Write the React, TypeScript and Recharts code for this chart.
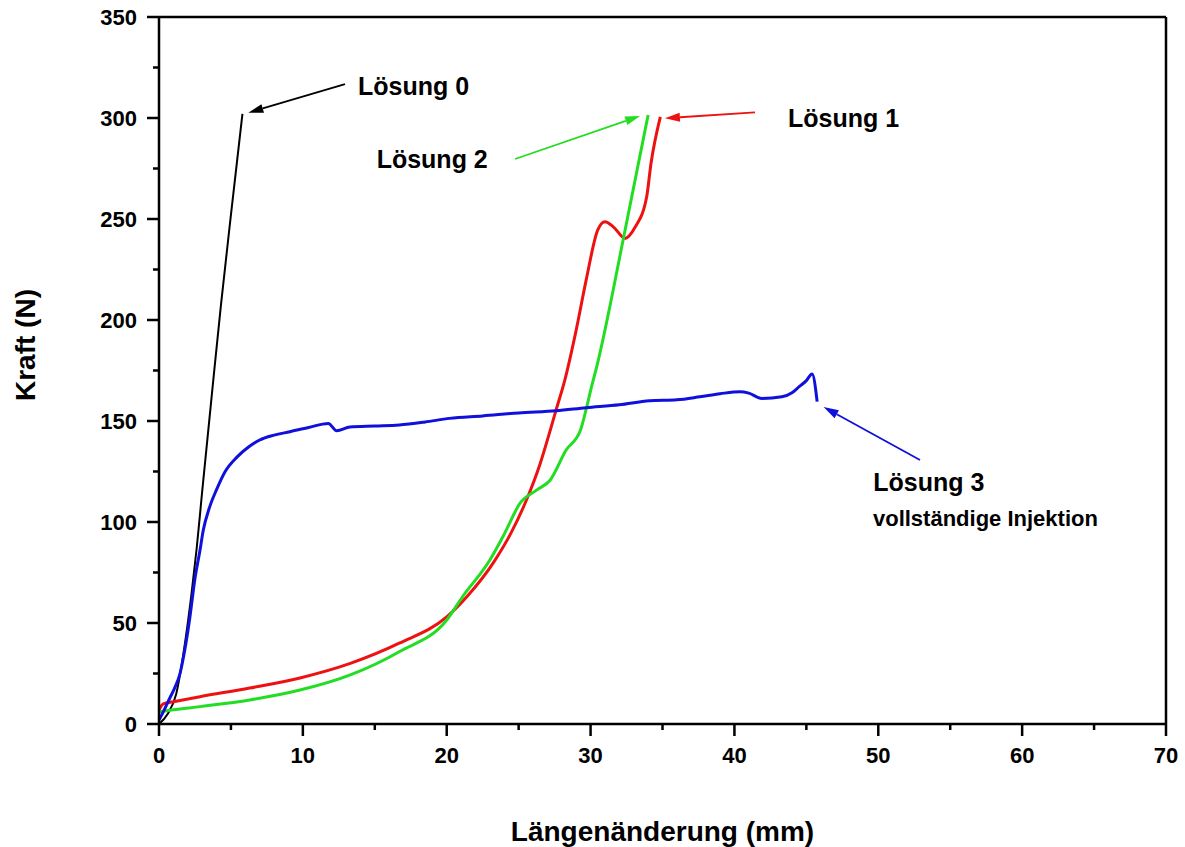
import { LineChart, Line, XAxis, YAxis, ReferenceLine, ReferenceDot, Label } from 'recharts';

const FONT = '"Liberation Sans", Arial, Helvetica, sans-serif';

const X_TICKS = [0, 5, 10, 15, 20, 25, 30, 35, 40, 45, 50, 55, 60, 65, 70];
const Y_TICKS = [0, 25, 50, 75, 100, 125, 150, 175, 200, 225, 250, 275, 300, 325, 350];

// Lösung 0
const loesung0X = [0, 0.6, 1.2, 1.7, 2.27, 2.62, 3.0, 3.77, 4.3, 5.0, 5.8];
const loesung0Y = [0, 5, 15, 35, 65, 87, 115, 170, 207, 252, 302];

// Lösung 1
const loesung1X = [0, 0.3, 1.0, 2.85, 6.3, 9.8, 13.3, 16.7, 20.0, 21.4, 23.35, 24.5, 25.55, 26.5, 27.2, 27.6, 28.2, 29.0, 29.7, 30.5, 31.0, 31.6, 32.4, 33.1, 33.9, 34.2, 34.85];
const loesung1Y = [7, 10, 11, 13.5, 17.8, 22.8, 30, 40, 53, 63, 81, 95, 111, 129, 145.5, 155.4, 170, 195, 220, 244.6, 248.7, 246, 240.4, 246, 261, 277.5, 300.6];

// Lösung 2
const loesung2X = [0, 1.0, 2.85, 6.3, 9.8, 13.3, 16.7, 20.0, 21.1, 23.0, 24.0, 25.1, 26.25, 27.2, 28.3, 29.3, 29.7, 30.0, 30.5, 31.0, 32.3, 33.2, 34.0];
const loesung2Y = [6, 7, 8.6, 11.9, 16.8, 24.3, 35.8, 51.5, 63, 81.2, 94, 109.3, 115.8, 120.8, 135.6, 145.5, 156, 165, 179, 195, 241, 273, 301.5];

// Lösung 3 (vollständige Injektion)
const loesung3X = [0, 0.3, 0.76, 1.1, 1.46, 1.8, 2.15, 2.5, 2.85, 3.08, 3.5, 4.0, 4.6, 5.4, 6.2, 7.0, 8.0, 9.1, 10.4, 11.77, 12.35, 13.27, 15.0, 16.7, 18.5, 20.2, 22.5, 25.0, 27.6, 29.7, 32.0, 34.1, 36.0, 37.6, 39.0, 40.4, 41.0, 41.9, 43.3, 44.0, 44.5, 45.0, 45.4, 45.75];
const loesung3Y = [2, 6, 13, 18, 25, 37, 53, 72, 86, 96, 107, 116, 125, 132, 137, 140.6, 143, 144.7, 146.8, 148.8, 145.2, 147, 147.5, 148, 149.5, 151.3, 152.5, 154, 155.1, 156.6, 158, 160, 160.5, 162, 163.5, 164.5, 163.8, 161.2, 162, 164, 167, 170, 173.3, 159.6];

const toPoints = (xs: number[], ys: number[]) => xs.map((x, i) => ({ x, y: ys[i] }));

const SERIES = [
  { key: 'l0', color: '#000000', width: 2, data: toPoints(loesung0X, loesung0Y) },
  { key: 'l1', color: '#ee1111', width: 3, data: toPoints(loesung1X, loesung1Y) },
  { key: 'l2', color: '#22dd22', width: 3, data: toPoints(loesung2X, loesung2Y) },
  { key: 'l3', color: '#1010dd', width: 3, data: toPoints(loesung3X, loesung3Y) },
];

// annotation arrows in data units: tail -> head
const ARROWS = [
  { color: '#000000', from: { x: 12.93, y: 316.8 }, to: { x: 6.21, y: 302.6 } },
  { color: '#22dd22', from: { x: 24.75, y: 279.7 }, to: { x: 33.44, y: 301 } },
  { color: '#ee1111', from: { x: 41.43, y: 302.8 }, to: { x: 35.17, y: 299.9 } },
  { color: '#1010dd', from: { x: 52.9, y: 130.7 }, to: { x: 46.2, y: 156.9 } },
];

const NOTES = [
  { text: 'Lösung 0', x: 13.83, y: 311.6, size: 25 },
  { text: 'Lösung 2', x: 15.13, y: 275.1, size: 25 },
  { text: 'Lösung 1', x: 43.72, y: 295.5, size: 25 },
  { text: 'Lösung 3', x: 49.65, y: 115.5, size: 25 },
  { text: 'vollständige Injektion', x: 49.63, y: 98.0, size: 22 },
];

const arrowShape = (color: string) => (props: any) => {
  const { x1, y1, x2, y2 } = props;
  const ang = Math.atan2(y2 - y1, x2 - x1);
  const len = 15;
  const half = 4.5;
  const bx = x2 - len * Math.cos(ang);
  const by = y2 - len * Math.sin(ang);
  const px = -Math.sin(ang) * half;
  const py = Math.cos(ang) * half;
  return (
    <g>
      <line x1={x1} y1={y1} x2={bx} y2={by} stroke={color} strokeWidth={1.8} />
      <polygon points={`${x2},${y2} ${bx + px},${by + py} ${bx - px},${by - py}`} fill={color} />
    </g>
  );
};

const XTick = (props: any) => {
  const { x, y, payload } = props;
  const major = payload.value % 10 === 0;
  return (
    <g>
      <line x1={x} y1={y} x2={x} y2={y + (major ? 12 : 6)} stroke="#000" strokeWidth={2.5} />
      {major && (
        <text x={x} y={y + 39} textAnchor="middle" fontSize={22} fontWeight="bold" fill="#000" fontFamily={FONT}>
          {payload.value}
        </text>
      )}
    </g>
  );
};

const YTick = (props: any) => {
  const { x, y, payload } = props;
  const major = payload.value % 50 === 0;
  return (
    <g>
      <line x1={x} y1={y} x2={x - (major ? 12 : 6)} y2={y} stroke="#000" strokeWidth={2.5} />
      {major && (
        <text x={x - 22} y={y} dy="0.36em" textAnchor="end" fontSize={22} fontWeight="bold" fill="#000" fontFamily={FONT}>
          {payload.value}
        </text>
      )}
    </g>
  );
};

export default function App() {
  return (
    <div style={{ position: 'absolute', left: 0, top: 0, background: '#fff', fontFamily: FONT }}>
      <LineChart width={1185} height={847} margin={{ top: 17, right: 19, bottom: 0, left: 0 }}>
        <XAxis
          type="number"
          dataKey="x"
          domain={[0, 70]}
          ticks={X_TICKS}
          interval={0}
          height={123}
          tickSize={0}
          tickMargin={0}
          tickLine={false}
          tick={<XTick />}
          axisLine={{ stroke: '#000', strokeWidth: 2.5 }}
        >
          <Label
            content={(p: any) => {
              const vb = p.viewBox;
              return (
                <text x={vb.x + vb.width / 2} y={vb.y + 117} textAnchor="middle" fontSize={28} fontWeight="bold" fill="#000" fontFamily={FONT}>
                  Längenänderung (mm)
                </text>
              );
            }}
          />
        </XAxis>
        <YAxis
          type="number"
          dataKey="y"
          domain={[0, 350]}
          ticks={Y_TICKS}
          interval={0}
          width={159}
          tickSize={0}
          tickMargin={0}
          tickLine={false}
          tick={<YTick />}
          axisLine={{ stroke: '#000', strokeWidth: 2.5 }}
        >
          <Label
            content={() => (
              <text x={35} y={345} transform="rotate(-90 35 345)" textAnchor="middle" fontSize={28} fontWeight="bold" fill="#000" fontFamily={FONT}>
                Kraft (N)
              </text>
            )}
          />
        </YAxis>
        <ReferenceLine y={350} stroke="#000" strokeWidth={2.5} />
        <ReferenceLine x={70} stroke="#000" strokeWidth={2.5} />
        {SERIES.map((s) => (
          <Line
            key={s.key}
            data={s.data}
            dataKey="y"
            type="monotone"
            stroke={s.color}
            strokeWidth={s.width}
            dot={false}
            activeDot={false}
            isAnimationActive={false}
          />
        ))}
        {ARROWS.map((a, i) => (
          <ReferenceLine key={`arrow-${i}`} segment={[a.from, a.to]} shape={arrowShape(a.color)} />
        ))}
        {NOTES.map((n) => (
          <ReferenceDot
            key={n.text}
            x={n.x}
            y={n.y}
            r={0}
            shape={(p: any) => (
              <text x={p.cx} y={p.cy} fontSize={n.size} fontWeight="bold" fill="#000" fontFamily={FONT}>
                {n.text}
              </text>
            )}
          />
        ))}
      </LineChart>
    </div>
  );
}
